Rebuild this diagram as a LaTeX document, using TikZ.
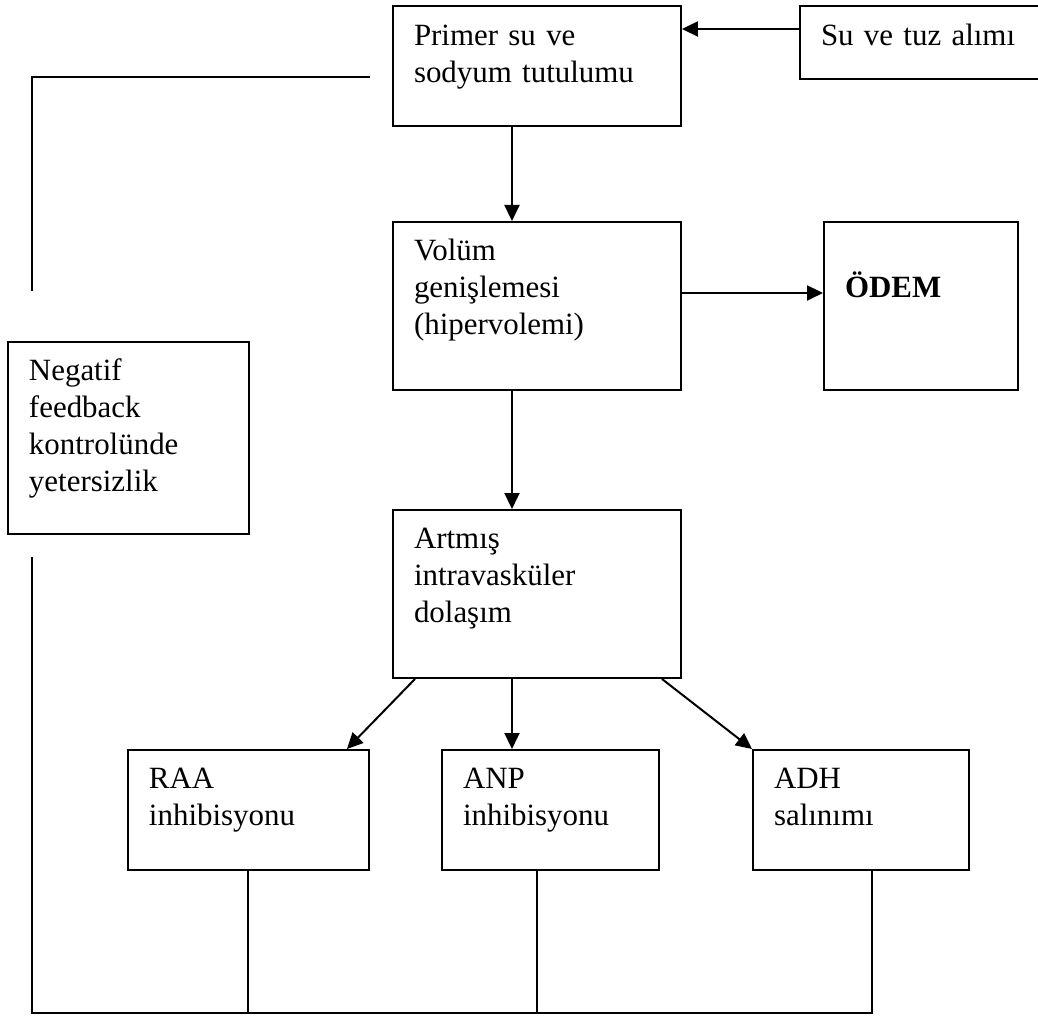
\documentclass[tikz,border=0pt]{standalone}
\usepackage{fontspec}
\setmainfont{Liberation Serif}
\usetikzlibrary{arrows.meta}
\tikzstyle{box}=[rectangle,draw,line width=0.04cm,inner xsep=0.42cm,inner ysep=0pt,anchor=north west,align=left]
\tikzstyle{link}=[line width=0.028cm]

\begin{document}
\begin{tikzpicture}[x=0.02cm,y=-0.02cm,line width=0.04cm,
    >={Triangle[length=0.32cm,width=0.3cm]},
    font=\fontsize{17.6pt}{21pt}\selectfont]
  \useasboundingbox (0,0) rectangle (1038,1016);
  % main chain
  \node[box,text width=4.92cm,text height=0.8cm,text depth=1.6cm] (prim) at (392,5) {Primer su ve\\sodyum tutulumu};
  \node[box,text width=5.3cm,text height=0.8cm,text depth=0.66cm] (su) at (799,5) {Su ve tuz alımı};
  \node[box,text width=4.92cm,text height=0.78cm,text depth=2.58cm] (vol) at (392,221) {Volüm\\genişlemesi\\(hipervolemi)};
  \node[box,text width=3.04cm,text height=1.52cm,text depth=1.84cm] (odem) at (823,221) {\textbf{ÖDEM}};
  \node[box,text width=4.92cm,text height=0.78cm,text depth=2.58cm] (artmis) at (392,509) {Artmış\\intravasküler\\dolaşım};
  \node[box,text width=3.98cm,text height=0.78cm,text depth=3.06cm] (neg) at (7,341) {Negatif\\feedback\\kontrolünde\\yetersizlik};
  % effects
  \node[box,text width=3.98cm,text height=0.78cm,text depth=1.62cm] (raa) at (127,749) {RAA\\inhibisyonu};
  \node[box,text width=3.5cm,text height=0.78cm,text depth=1.62cm] (anp) at (441,749) {ANP\\inhibisyonu};
  \node[box,text width=3.48cm,text height=0.78cm,text depth=1.62cm] (adh) at (752,749) {ADH\\salınımı};

  \draw[->] ([yshift=-0.48cm]su.north west) -- ([yshift=-0.48cm]prim.north east);
  \draw[->] ([xshift=2.4cm]prim.south west) -- ([xshift=2.4cm]vol.north west);
  \draw[->] ([yshift=-1.44cm]vol.north east) -- ([yshift=-1.44cm]odem.north west);
  \draw[->] ([xshift=2.4cm]vol.south west) -- ([xshift=2.4cm]artmis.north west);
  \draw[->] ([xshift=0.46cm]artmis.south west) -- ([xshift=-0.46cm]raa.north east);
  \draw[->] ([xshift=2.4cm]artmis.south west) -- ([xshift=2.4cm]artmis.south west |- anp.north);
  \draw[->] ([xshift=5.4cm]artmis.south west) -- (adh.north west);

  % feedback loop
  \coordinate (fbtop) at (370,77);
  \coordinate (fbleft) at (32,77);
  \coordinate (fbmid) at (32,291);
  \coordinate (fbbot) at (32,557);
  \coordinate (corner) at (32,1013);
  \draw[link] (fbtop) -- (fbleft) -- (fbmid);
  \draw[link] (fbbot) -- (corner) -| ([xshift=2.4cm]adh.south west);
  \draw[link] ([xshift=2.42cm]raa.south west) -- ([xshift=2.42cm]raa.south west |- corner);
  \draw[link] ([xshift=1.92cm]anp.south west) -- ([xshift=1.92cm]anp.south west |- corner);
\end{tikzpicture}
\end{document}
